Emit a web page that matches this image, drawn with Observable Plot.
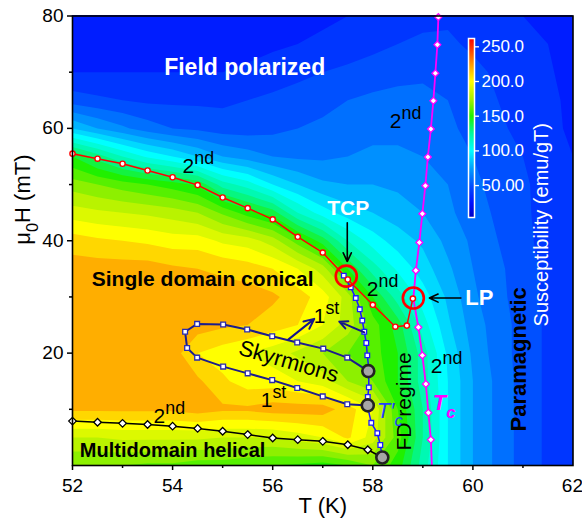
<!DOCTYPE html>
<html><head><meta charset="utf-8">
<script src="https://cdn.jsdelivr.net/npm/d3@7"></script>
<script src="https://cdn.jsdelivr.net/npm/@observablehq/plot@0.6"></script>
<style>
html,body{margin:0;padding:0;background:#fff;}
#wrap{position:relative;width:582px;height:523px;overflow:hidden;}
#cbar{position:absolute;left:440px;top:0;}
</style></head><body><div id="wrap"></div>
<script>
// ---------- susceptibility map ----------
const gridT = [52,52.5,53,53.5,54,54.5,55,55.5,56,56.5,57,57.5,58,58.5,59,59.5,60,60.5,61,61.5,62];
const gridH = [80,75,70,65,60,55,50,45,40,35,30,25,20,15,10,5,0];
const chiH80 = [30,30,30,30,30,32,32,33,35,35,38,40,42,45,47,48,45,42,40,38,35];
const chiH75 = [33,33,33,33,33,35,35,36,38,40,42,45,47,50,52,52,48,45,42,40,36];
const chiH70 = [40,40,40,40,40,40,40,42,45,47,50,52,55,57,58,57,53,48,44,41,37];
const chiH65 = [55,52,50,48,48,48,48,50,52,55,57,60,62,63,63,60,55,50,45,42,38];
const chiH60 = [90,80,72,65,60,58,55,55,57,60,62,65,67,67,65,62,57,52,47,43,38];
const chiH55 = [150,135,120,108,100,90,80,75,70,68,68,70,72,72,70,65,60,55,50,44,40];
const chiH50 = [175,170,165,160,155,148,125,115,100,90,82,80,80,78,75,70,62,57,52,45,40];
const chiH45 = [195,192,190,188,185,180,168,155,145,120,105,95,90,85,80,72,65,58,52,46,40];
const chiH40 = [215,212,210,208,205,205,198,195,185,165,145,120,105,95,88,77,68,60,53,46,40];
const chiH35 = [225,225,225,225,222,220,218,215,210,200,185,150,125,108,95,82,70,62,55,47,40];
const chiH30 = [228,228,228,228,228,225,225,225,222,215,205,185,150,125,105,88,72,63,55,47,40];
const chiH25 = [228,230,230,230,228,225,222,220,215,210,200,185,165,145,115,92,75,65,56,48,40];
const chiH20 = [228,228,228,228,225,210,205,200,195,188,180,170,165,150,125,98,78,65,56,48,40];
const chiH15 = [228,228,228,228,228,222,212,205,205,200,195,180,170,150,125,100,80,67,56,48,40];
const chiH10 = [222,222,222,222,222,225,222,222,225,225,225,215,200,160,130,100,80,67,56,48,40];
const chiH5  = [190,190,192,192,192,192,190,190,190,195,200,212,195,165,130,100,80,67,56,48,40];
const chiH0  = [170,170,170,168,168,165,165,162,160,158,155,160,170,155,125,100,80,67,56,48,40];
const chiRows = [chiH80,chiH75,chiH70,chiH65,chiH60,chiH55,chiH50,chiH45,chiH40,chiH35,chiH30,chiH25,chiH20,chiH15,chiH10,chiH5,chiH0];
const chiThresholds = d3.range(0, 270, 10);

// colour map (Origin rainbow)
const colorStops = [4, 25, 50, 75, 100, 125, 150, 175, 200, 220, 250, 262];
const colorRamp  = ["#0000c0","#0010ff","#0050ff","#00a0ff","#00ffff","#00f8a0","#20f000","#a8f000","#ffff00","#ffae00","#ff3000","#ff0000"];
const cbarTicks = [50, 100, 150, 200, 250];
const cbarTickLabels = ["50.00", "100.0", "150.0", "200.0", "250.0"];
const cbarDomain = [4, 262];

// ---------- phase boundaries ----------
const redT = [52,52.5,53,53.5,54,54.5,55,55.5,56,56.5,57,57.5,58,58.45,58.68,58.8];
const redH = [55.5,54.6,53.7,52.5,51.3,49.9,47.7,45.8,43.8,40.7,37.9,33.1,28.6,24.7,24.9,29.7];

const magT = [59.31,59.29,59.25,59.21,59.16,59.10,59.05,58.99,58.93,58.86,58.81,58.91,58.99,59.06,59.11,59.16,59.18];
const magH = [79.8,74.9,69.8,64.9,59.9,54.9,49.8,44.8,39.7,34.7,29.7,24.6,19.6,14.5,9.4,4.6,0];
const magMarker = [1,1,1,1,1,1,1,1,1,1,0,1,1,1,1,1,0];

const helT = [52,52.5,53,53.5,54,54.5,55,55.5,56,56.5,57,57.5,57.9,58.19];
const helH = [7.9,7.7,7.5,7.3,7.0,6.6,6.1,5.5,4.9,4.6,4.3,3.7,2.8,1.42];

const tcpT = [57.42,57.56,57.66,57.74,57.79,57.83,57.87,57.89,57.92,57.92,57.90,57.89,57.97,58.09,58.15,58.19];
const tcpH = [33.8,31.7,29.8,27.8,25.8,23.8,21.8,19.6,17.3,13.9,12.2,10.7,7.6,5.75,3.65,1.42];

const skyT = [57.91,57.49,57.01,56.49,55.99,55.49,55.01,54.49,54.25,54.29,54.49,55.01,55.5,55.99,56.49,57.0,57.49,57.9];
const skyH = [16.8,19.2,20.8,21.9,23.0,24.2,25.1,25.2,23.8,20.9,19.2,17.6,16.4,15.2,13.8,12.3,10.9,10.7];

const grayT = [57.91, 57.9, 58.19];
const grayH = [16.8, 10.7, 1.42];

const ringT = [57.47, 58.81];
const ringH = [33.7, 29.8];

// arrows
const blackArrowT1 = [57.49, 59.76], blackArrowH1 = [43.2, 29.8];
const blackArrowT2 = [57.49, 59.13], blackArrowH2 = [36.3, 29.8];
const navyArrowT1 = [56.31, 57.83], navyArrowH1 = [22.4, 23.7];
const navyArrowT2 = [56.83, 57.33], navyArrowH2 = [26.1, 25.6];

// labels
const whiteLabels = ["Field polarized", "TCP", "LP"];
const whiteT = [55.44, 57.51, 60.13];
const whiteH = [70.8, 45.7, 29.9];
const whiteSize = [23, 21, 22];

const boldLabels = ["Single domain conical", "Multidomain helical"];
const boldT = [54.6, 54.0];
const boldH = [33.1, 2.74];
const boldSize = [21, 20];

const orderLabels = ["2^{nd}","2^{nd}","2^{nd}","2^{nd}","2^{nd}","1^{st}","1^{st}"];
const orderT = [54.2, 58.34, 57.88, 59.16, 53.62, 56.82, 55.76];
const orderH = [52.1, 60.1, 30.2, 16.5, 7.5, 25.4, 10.4];

const xTicks = [52,54,56,58,60], xLastTick = [62], xMinor = [53,55,57,59,61];
const yTicks = [20,40,60,80], yMinor = [10,30,50,70];

// ---------- build tables ----------
const chiFlat = chiRows.flat();
const pts = (T, H) => T.map((t, i) => ({T: t, H: H[i], i}));
const redPts = pts(redT, redH), magPts = pts(magT, magH), helPts = pts(helT, helH);
const tcpPts = pts(tcpT, tcpH), skyPts = pts(skyT, skyH), grayPts = pts(grayT, grayH), ringPts = pts(ringT, ringH);
const dT = (gridT[1] - gridT[0]) / 2, dH = (gridH[0] - gridH[1]) / 2;
const font = "'Liberation Sans', Arial, sans-serif";
const colorScale = {type: "linear", domain: colorStops, range: colorRamp, interpolate: "rgb", clamp: true};

const chart = Plot.plot({
  width: 582, height: 523,
  marginLeft: 72, marginRight: 9.5, marginTop: 15.5, marginBottom: 58,
  x: {domain: [52, 62]},
  y: {domain: [0, 80]},
  color: colorScale,
  style: {fontFamily: font, fontSize: "19px", color: "black", background: "white", overflow: "visible"},
  marks: [
    Plot.contour(chiFlat, {x1: gridT[0] - dT, x2: gridT[gridT.length-1] + dT, y1: gridH[0] + dH, y2: gridH[gridH.length-1] - dH,
      width: gridT.length, height: gridH.length, fill: Plot.identity, thresholds: chiThresholds, clip: true}),
    // lines
    Plot.line(helPts, {x: "T", y: "H", stroke: "black", strokeWidth: 1.5}),
    Plot.line(skyPts, {x: "T", y: "H", stroke: "#1c1c8c", strokeWidth: 2}),
    Plot.line(tcpPts, {x: "T", y: "H", stroke: "#1a1aff", strokeWidth: 1.5}),
    Plot.line(redPts, {x: "T", y: "H", stroke: "#ff0000", strokeWidth: 1.5}),
    Plot.line(magPts, {x: "T", y: "H", stroke: "#ff00ff", strokeWidth: 1.8, clip: true}),
    // markers
    Plot.dot(helPts, {filter: d => d.i < helPts.length - 1, x: "T", y: "H", symbol: "diamond2", r: 3.4, fill: "white", stroke: "black", strokeWidth: 1.3}),
    Plot.dot(skyPts, {x: "T", y: "H", symbol: "square", r: 2.7, fill: "white", stroke: "#2a2ab0", strokeWidth: 1.3}),
    Plot.dot(tcpPts, {x: "T", y: "H", symbol: "square", r: 2.6, fill: "white", stroke: "#1a1aff", strokeWidth: 1.3}),
    Plot.dot(magPts, {filter: d => magMarker[d.i] === 1, x: "T", y: "H", symbol: "diamond2", r: 3.1, fill: "white", stroke: "#ff00ff", strokeWidth: 1.3}),
    Plot.dot(redPts, {x: "T", y: "H", r: 2.6, fill: "white", stroke: "#ff0000", strokeWidth: 1.4}),
    Plot.dot(grayPts, {x: "T", y: "H", r: 6, fill: "#a6a6a6", stroke: "#222", strokeWidth: 2.6}),
    Plot.dot(ringPts, {x: "T", y: "H", r: 10.5, fill: "none", stroke: "#ff0000", strokeWidth: 2.6}),
    // arrows
    Plot.arrow(blackArrowT1, {x1: blackArrowT1, y1: blackArrowH1, x2: blackArrowT2, y2: blackArrowH2, stroke: "black", strokeWidth: 1.6, headLength: 9, headAngle: 50}),
    Plot.arrow(navyArrowT1, {x1: navyArrowT1, y1: navyArrowH1, x2: navyArrowT2, y2: navyArrowH2, stroke: "#14148c", strokeWidth: 2, headLength: 10, headAngle: 50}),
    // frame & axes
    Plot.frame({stroke: "black", strokeWidth: 1.6}),
    Plot.axisX({ticks: xTicks, tickSize: 5, tickPadding: 8, strokeWidth: 1.5, fontSize: 19, label: null}),
    Plot.axisX({ticks: xLastTick, tickSize: 5, tickPadding: 8, strokeWidth: 1.5, fontSize: 19, textAnchor: "end", dx: 10, label: null}),
    Plot.axisX({ticks: xMinor, tickSize: 3, strokeWidth: 1.5, tickFormat: () => "", label: null}),
    Plot.axisY({ticks: yTicks, tickSize: 5, tickPadding: 4, strokeWidth: 1.5, fontSize: 19, label: null}),
    Plot.axisY({ticks: yMinor, tickSize: 3, strokeWidth: 1.5, tickFormat: () => "", label: null}),
    Plot.text(["T (K)"], {frameAnchor: "bottom", dy: 47, lineAnchor: "bottom", fontSize: 22, fill: "black"}),
    Plot.text(["μ_{0}H (mT)"], {frameAnchor: "left", dx: -43, dy: 4, rotate: -90, lineAnchor: "bottom", fontSize: 22, fill: "black"}),
    // region labels
    Plot.text(whiteLabels, {x: whiteT, y: whiteH, text: Plot.identity, fontSize: whiteSize, fontWeight: "bold", fill: "white"}),
    Plot.text(boldLabels, {x: boldT, y: boldH, text: Plot.identity, fontSize: boldSize, fontWeight: "bold", fill: "black"}),
    Plot.text(["Paramagnetic"], {x: [60.92], y: [18.9], rotate: -90, fontSize: 22, fontWeight: "bold", fill: "black"}),
    Plot.text(["FD regime"], {x: [58.63], y: [11.4], rotate: -90, fontSize: 21, fill: "black"}),
    Plot.text(["Skyrmions"], {x: [56.32], y: [18.5], rotate: 16, fontSize: 22, fill: "black"}),
    Plot.text(orderLabels, {x: orderT, y: orderH, text: Plot.identity, textAnchor: "start", lineAnchor: "bottom", fontSize: 21, fill: "black"}),
    Plot.text(["T′_{c}"], {x: [58.08], y: [8.54], textAnchor: "start", lineAnchor: "bottom", fontSize: 22, fontStyle: "italic", fill: "#1f3fff"}),
    Plot.text(["T_{c}"], {x: [59.2], y: [9.96], textAnchor: "start", lineAnchor: "bottom", fontSize: 22, fontStyle: "italic", fontWeight: "bold", fill: "#ff00ff"})
  ]
});

const cbar = Plot.plot({
  width: 142, height: 240,
  marginLeft: 28, marginRight: 108, marginTop: 38, marginBottom: 23,
  x: {domain: [0, 1], axis: null},
  y: {domain: cbarDomain, axis: null},
  color: colorScale,
  style: {fontFamily: font, color: "white", background: "none", overflow: "visible"},
  marks: [
    Plot.raster({x1: 0, x2: 1, y1: cbarDomain[0], y2: cbarDomain[1], fill: (x, y) => y}),
    Plot.frame({stroke: "white", strokeWidth: 1.5}),
    Plot.axisY({anchor: "right", ticks: cbarTicks, tickFormat: d => cbarTickLabels[cbarTicks.indexOf(d)], tickSize: 4, tickPadding: 3, strokeWidth: 1.3, fontSize: 17, label: null}),
    Plot.text(["Susceptibility (emu/gT)"], {frameAnchor: "right", dx: 67, dy: -5, rotate: -90, fontSize: 20, fill: "white"})
  ]
});
cbar.id = "cbar";

const wrap = document.getElementById("wrap");
wrap.appendChild(chart);
wrap.appendChild(cbar);

// rich text: ^{..} superscript, _{..} subscript
function richify(root) {
  root.querySelectorAll("text").forEach(t => {
    const s = t.textContent;
    if (!/[_^]\{/.test(s)) return;
    const fs = parseFloat(getComputedStyle(t).fontSize) || 16;
    while (t.firstChild) t.removeChild(t.firstChild);
    let shift = 0;
    const re = /([_^])\{([^}]*)\}|([^_^]+)/g;
    let m;
    while ((m = re.exec(s))) {
      const ts = document.createElementNS("http://www.w3.org/2000/svg", "tspan");
      if (m[3] !== undefined) {
        ts.textContent = m[3];
        if (shift !== 0) ts.setAttribute("dy", -shift);
        shift = 0;
      } else {
        const sup = m[1] === "^";
        const target = sup ? -0.43 * fs : 0.4 * fs;
        ts.textContent = m[2];
        ts.setAttribute("font-size", (sup ? 0.85 : 0.75) * fs);
        ts.setAttribute("dy", target - shift);
        shift = target;
      }
      t.appendChild(ts);
    }
  });
}
richify(chart);
</script></body></html>
